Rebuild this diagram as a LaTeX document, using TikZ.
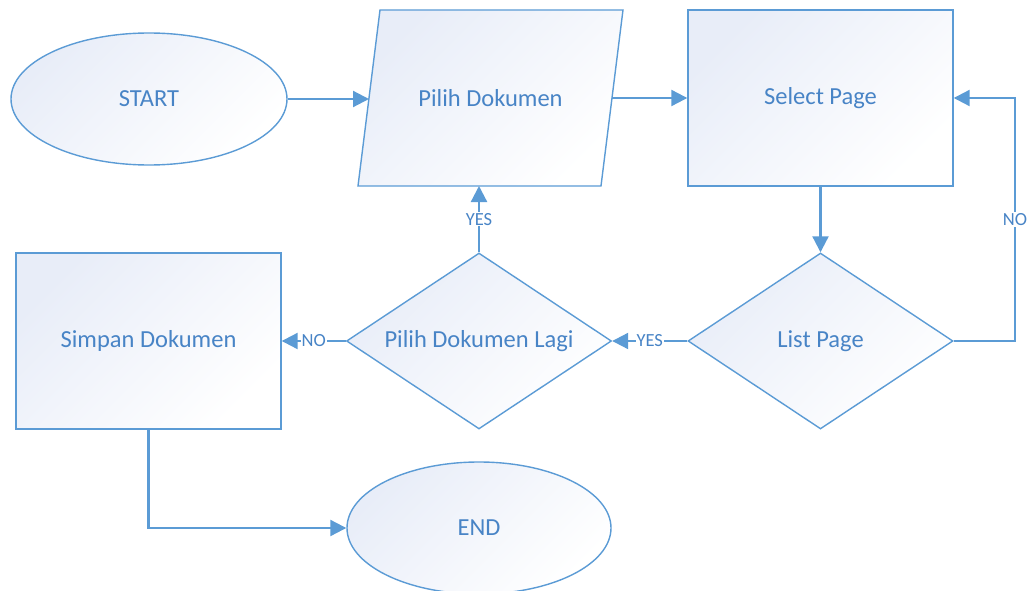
\documentclass[tikz,border=0pt]{standalone}
\usepackage{fontspec}
\setmainfont{Carlito}
\usetikzlibrary{shapes.geometric,arrows.meta}
\definecolor{lineblue}{RGB}{91,155,213}
\definecolor{textblue}{RGB}{72,132,198}
\definecolor{shadeblue}{RGB}{232,237,248}
\tikzset{
  shapestyle/.style={draw=lineblue, line width=1.4pt, top color=shadeblue, bottom color=white, shading angle=45},
  shapebase/.style={shapestyle, text=textblue, font=\fontsize{24.5}{27}\selectfont, inner sep=0pt},
  termbox/.style={shapebase, ellipse, minimum width=276pt, minimum height=132pt},
  textonly/.style={text=textblue, font=\fontsize{24.5}{27}\selectfont, inner sep=0pt, minimum width=243pt, minimum height=176pt},
  procbox/.style={shapebase, rectangle, minimum width=265pt, minimum height=176pt},
  decbox/.style={shapebase, diamond, minimum width=265pt, minimum height=176pt},
  conn/.style={draw=lineblue, line width=2.2pt, -{Triangle[length=16pt,width=16pt]}},
  lbl/.style={fill=white, text=textblue, font=\fontsize{18.5}{20}\selectfont, inner sep=1pt}
}
\begin{document}
\begin{tikzpicture}[x=1pt,y=-1pt]
\useasboundingbox (0,0) rectangle (1034,591);
\node[termbox] (start) at (149,99) {START};
\path[shapestyle] (380,10) -- (623,10) -- (601,186) -- (358,186) -- cycle;
\node[textonly] (pd) at (490.5,98) {Pilih Dokumen};
\coordinate (pdl) at (369,99);
\coordinate (pdr) at (612,98);
\coordinate (pdb) at (479,186);
\node[procbox] (sp) at (820.5,98) {Select Page};
\node[decbox] (lp) at (820.5,341) {\makebox[0pt]{List Page}};
\node[decbox] (pl) at (479,341) {\makebox[0pt]{Pilih Dokumen Lagi}};
\node[procbox] (sd) at (148.5,341) {Simpan Dokumen};
\node[termbox, minimum width=264pt] (end) at (479,528) {END};
\coordinate (c1) at (1015,341);
\coordinate (c2) at (1015,98);
\draw[conn] (start.east) -- (pdl);
\draw[conn] (pdr) -- (sp.west);
\draw[conn] (sp) -- (lp);
\draw[conn] (lp.east) -- (c1) -- node[lbl]{NO} (c2) -- (sp.east);
\draw[conn] (lp.west) -- node[lbl]{YES} (pl.east);
\draw[conn] (pl.north) -- node[lbl]{YES} (pdb);
\draw[conn] (pl.west) -- node[lbl]{NO} (sd.east);
\draw[conn] (sd.south) |- (end.west);
\end{tikzpicture}
\end{document}
